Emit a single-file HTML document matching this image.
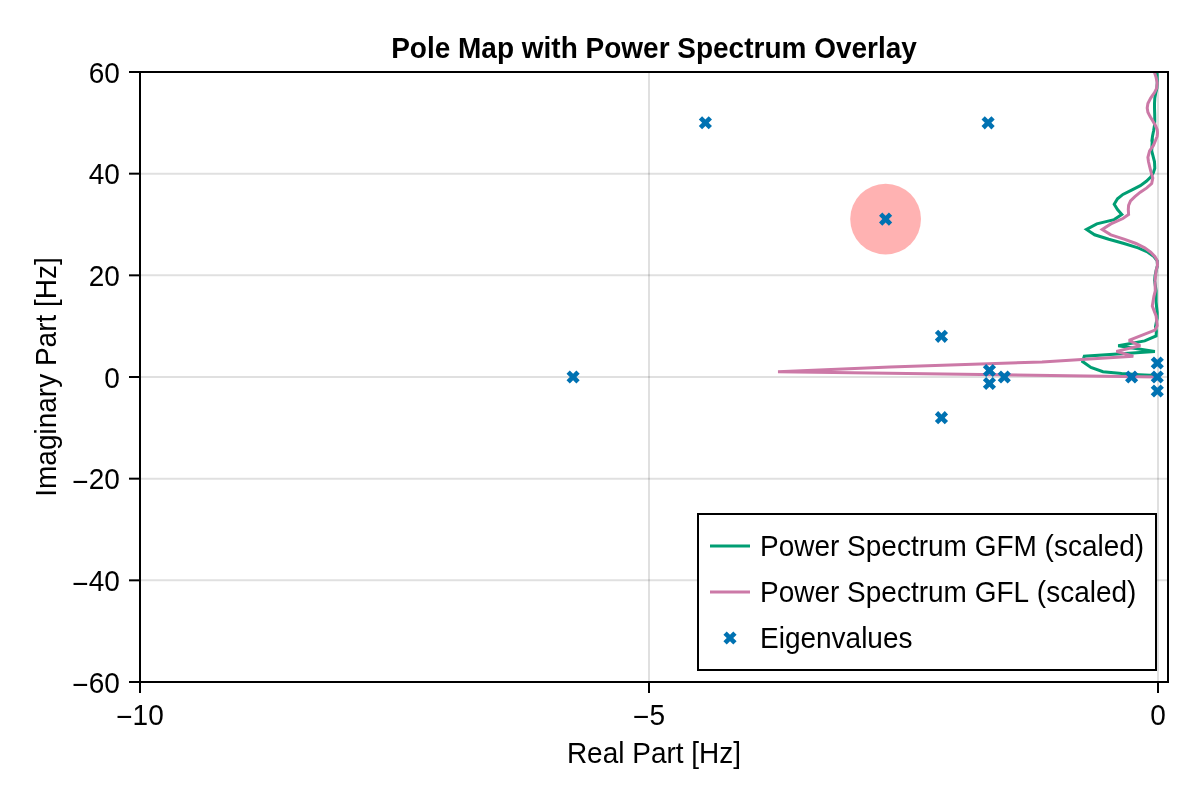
<!DOCTYPE html>
<html lang="en"><head><meta charset="utf-8"><title>Pole Map with Power Spectrum Overlay</title>
<style>
html,body{margin:0;padding:0;background:#fff;}
body{width:1200px;height:800px;overflow:hidden;}
svg{display:block;}
text{font-kerning:none;font-family:"Liberation Sans",Arial,Helvetica,sans-serif;font-size:28px;fill:#000;}
.b{font-weight:bold;}
</style></head><body>
<svg width="1200" height="800" viewBox="0 0 1200 800">
<rect width="1200" height="800" fill="#fff"/>
<defs><clipPath id="ax"><rect x="140" y="72" width="1028" height="610"/></clipPath>
<path id="xc" d="M7.00,2.32 L2.32,2.32 L2.32,7.00 L-2.32,7.00 L-2.32,2.32 L-7.00,2.32 L-7.00,-2.32 L-2.32,-2.32 L-2.32,-7.00 L2.32,-7.00 L2.32,-2.32 L7.00,-2.32Z" transform="rotate(45)"/></defs>

<g stroke="#000" stroke-opacity="0.12" stroke-width="2" fill="none">
<line x1="649.00" y1="72" x2="649.00" y2="682"/>
<line x1="1158.00" y1="72" x2="1158.00" y2="682"/>
<line x1="140" y1="173.67" x2="1168" y2="173.67"/>
<line x1="140" y1="275.33" x2="1168" y2="275.33"/>
<line x1="140" y1="377.00" x2="1168" y2="377.00"/>
<line x1="140" y1="478.67" x2="1168" y2="478.67"/>
<line x1="140" y1="580.33" x2="1168" y2="580.33"/>
</g>
<g clip-path="url(#ax)">
<polyline points="1157.1,70.0 1157.1,73.1 1157.3,81.8 1156.9,88.3 1155.8,92.6 1154.8,98.1 1154.5,103.5 1154.5,107.9 1154.7,114.4 1154.8,120.9 1154.5,125.3 1153.6,130.7 1152.5,136.2 1152.0,140.0 1152.3,140.0 1151.7,150.9 1154.5,161.8 1154.8,168.3 1153.4,172.6 1150.7,177.0 1146.3,181.3 1140.3,185.7 1131.6,190.1 1122.9,194.4 1117.5,198.8 1114.2,204.2 1117.5,209.6 1121.8,214.5 1114.2,219.6 1096.8,223.9 1086.5,229.4 1094.6,234.8 1108.8,239.2 1124.0,243.5 1138.1,247.9 1147.9,252.2 1153.9,256.6 1157.2,260.9 1157.5,265.3 1156.1,270.7 1155.0,276.2 1154.5,281.6 1154.5,280.0 1156.1,290.9 1156.1,301.8 1156.6,307.2 1157.2,312.6 1157.2,318.1 1156.1,323.5 1155.5,326.8 1156.4,331.1 1156.1,336.0 1144.7,340.9 1118.2,345.8 1154.9,351.4 1084.3,356.3 1082.6,361.6 1090.9,367.4 1103.0,371.7 1121.7,373.6 1139.2,374.8 1155.5,375.6 1158.0,377.0" fill="none" stroke="#009E73" stroke-width="3" stroke-linejoin="miter" stroke-miterlimit="2"/>
<polyline points="1153.7,70.0 1154.7,73.1 1156.1,77.4 1157.2,82.9 1156.6,88.3 1154.5,92.6 1150.7,98.1 1147.9,103.5 1147.2,107.9 1147.9,112.2 1150.1,116.6 1152.8,120.9 1155.3,125.3 1157.2,129.6 1157.5,132.9 1157.2,136.2 1155.5,140.5 1153.4,145.4 1149.6,150.9 1147.9,157.4 1148.5,161.8 1150.1,168.3 1151.2,172.6 1152.8,178.1 1151.7,183.5 1146.8,187.9 1140.3,192.2 1134.9,196.6 1130.5,200.9 1128.6,205.3 1128.3,209.6 1128.6,214.5 1122.9,218.5 1110.9,223.9 1102.2,229.4 1110.9,234.8 1124.0,239.2 1136.0,243.5 1144.7,247.9 1150.7,252.2 1155.0,256.6 1157.2,260.9 1157.5,265.3 1156.1,270.7 1155.5,276.2 1155.0,281.6 1155.0,280.0 1155.3,290.9 1153.9,296.3 1152.3,306.1 1156.1,315.9 1157.2,325.7 1155.0,330.1 1128.9,340.4 1140.3,345.8 1116.4,351.4 1133.3,356.3 1042.0,362.0 890.0,366.9 778.0,371.7 1157.5,376.9" fill="none" stroke="#CC79A7" stroke-width="3" stroke-linejoin="miter" stroke-miterlimit="2"/>
<circle cx="885.6" cy="219.1" r="35.4" fill="#f00" fill-opacity="0.3"/>
<g fill="#0072B2">
<use href="#xc" x="0" y="0" transform="translate(705.40,122.75)"/>
<use href="#xc" x="0" y="0" transform="translate(988.10,122.80)"/>
<use href="#xc" x="0" y="0" transform="translate(885.60,219.10)"/>
<use href="#xc" x="0" y="0" transform="translate(941.45,336.30)"/>
<use href="#xc" x="0" y="0" transform="translate(941.45,417.70)"/>
<use href="#xc" x="0" y="0" transform="translate(573.10,377.00)"/>
<use href="#xc" x="0" y="0" transform="translate(989.45,370.50)"/>
<use href="#xc" x="0" y="0" transform="translate(989.45,383.50)"/>
<use href="#xc" x="0" y="0" transform="translate(1004.30,377.00)"/>
<use href="#xc" x="0" y="0" transform="translate(1131.60,377.00)"/>
<use href="#xc" x="0" y="0" transform="translate(1157.30,363.00)"/>
<use href="#xc" x="0" y="0" transform="translate(1157.30,377.00)"/>
<use href="#xc" x="0" y="0" transform="translate(1157.30,391.00)"/>
</g></g>
<g stroke="#000" stroke-width="2" fill="none">
<path d="M140,71 V683 M1168,71 V683 M139,72 H1169 M139,682 H1169"/>
<line x1="129" y1="72.00" x2="140" y2="72.00"/>
<line x1="129" y1="173.67" x2="140" y2="173.67"/>
<line x1="129" y1="275.33" x2="140" y2="275.33"/>
<line x1="129" y1="377.00" x2="140" y2="377.00"/>
<line x1="129" y1="478.67" x2="140" y2="478.67"/>
<line x1="129" y1="580.33" x2="140" y2="580.33"/>
<line x1="129" y1="682.00" x2="140" y2="682.00"/>
<line x1="140.00" y1="682" x2="140.00" y2="693"/>
<line x1="649.00" y1="682" x2="649.00" y2="693"/>
<line x1="1158.00" y1="682" x2="1158.00" y2="693"/>
</g>
<text transform="translate(119.8,82.60) scale(1,1.08)" text-anchor="end">60</text>
<text transform="translate(119.8,184.27) scale(1,1.08)" text-anchor="end">40</text>
<text transform="translate(119.8,285.93) scale(1,1.08)" text-anchor="end">20</text>
<text transform="translate(119.8,387.60) scale(1,1.08)" text-anchor="end">0</text>
<text transform="translate(119.8,489.27) scale(1,1.08)" text-anchor="end"><tspan dy="2.4">−</tspan><tspan dy="-2.4">20</tspan></text>
<text transform="translate(119.8,590.93) scale(1,1.08)" text-anchor="end"><tspan dy="2.4">−</tspan><tspan dy="-2.4">40</tspan></text>
<text transform="translate(119.8,692.60) scale(1,1.08)" text-anchor="end"><tspan dy="2.4">−</tspan><tspan dy="-2.4">60</tspan></text>
<text transform="translate(140.00,724.6) scale(1,1.08)" text-anchor="middle"><tspan dy="2.4">−</tspan><tspan dy="-2.4">10</tspan></text>
<text transform="translate(649.00,724.6) scale(1,1.08)" text-anchor="middle"><tspan dy="2.4">−</tspan><tspan dy="-2.4">5</tspan></text>
<text transform="translate(1158.00,724.6) scale(1,1.08)" text-anchor="middle">0</text>
<text class="b" transform="translate(654,57.8) scale(1,1.045)" text-anchor="middle">Pole Map with Power Spectrum Overlay</text>
<text transform="translate(654,762.7) scale(1,1.045)" text-anchor="middle">Real Part [Hz]</text>
<text transform="translate(56.2,377) rotate(-90) scale(1,1.045)" text-anchor="middle">Imaginary Part [Hz]</text>
<rect x="698" y="514" width="458" height="156" fill="#fff" stroke="#000" stroke-width="2"/>
<line x1="710" y1="546" x2="750" y2="546" stroke="#009E73" stroke-width="3"/>
<line x1="710" y1="592" x2="750" y2="592" stroke="#CC79A7" stroke-width="3"/>
<use href="#xc" fill="#0072B2" transform="translate(730,638)"/>
<text transform="translate(760.0,556.3) scale(1,1.045)">Power Spectrum GFM (scaled)</text>
<text transform="translate(760.0,602.3) scale(1,1.045)">Power Spectrum GFL (scaled)</text>
<text transform="translate(760.0,648.3) scale(1,1.045)">Eigenvalues</text>
</svg></body></html>
